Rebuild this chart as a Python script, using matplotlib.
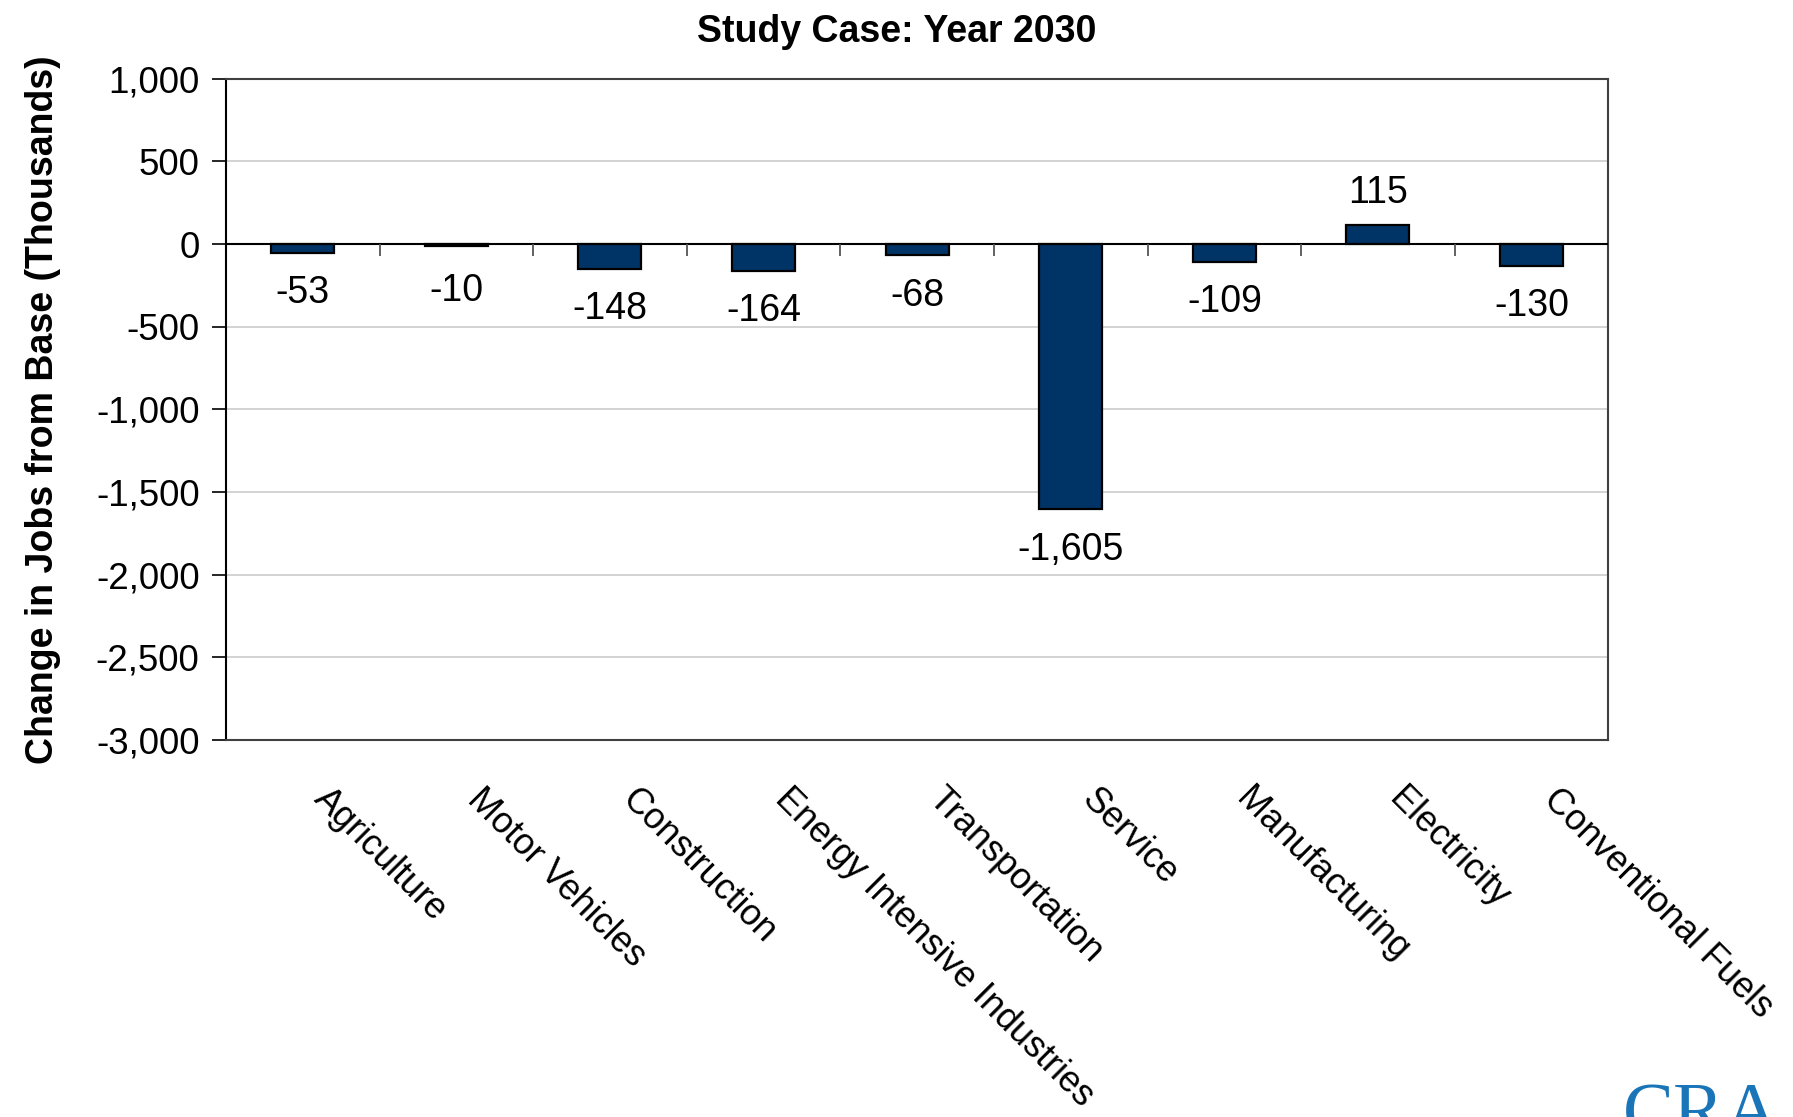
import matplotlib
matplotlib.use("Agg")
import matplotlib.pyplot as plt
import matplotlib.transforms as mtransforms
import numpy as np
from matplotlib.ticker import FuncFormatter

plt.rcParams['font.family'] = ['Liberation Sans', 'DejaVu Sans']

# data (thousands of jobs)
sectors = ['Agriculture', 'Motor Vehicles', 'Construction',
           'Energy Intensive Industries', 'Transportation', 'Service',
           'Manufacturing', 'Electricity', 'Conventional Fuels']
change = [-53, -10, -148, -164, -68, -1605, -109, 115, -130]
yticks = [1000, 500, 0, -500, -1000, -1500, -2000, -2500, -3000]

bar_color = '#003366'

fig = plt.figure(figsize=(17.93, 11.17), dpi=100)
ax = fig.add_axes([0.126, 0.3375, 0.771, 0.592])

x = np.arange(len(sectors))
bars = ax.bar(x, change, width=0.41, color=bar_color, edgecolor='black',
              linewidth=1.6, zorder=3)

ax.set_xlim(-0.5, len(sectors) - 0.5)
ax.set_ylim(min(yticks), max(yticks))
ax.set_yticks(yticks)
ax.yaxis.set_major_formatter(FuncFormatter(lambda v, p: f"{v:,.0f}"))
ax.tick_params(axis='y', labelsize=26.5, length=10, width=1.2, direction='out', pad=9)
ax.grid(axis='y', color='#c8c8c8', linewidth=1.1, zorder=0)
ax.axhline(0, color='black', linewidth=1.5, zorder=4)

# category-boundary ticks on the zero line, like the excel category axis
bounds = x[:-1] + 0.5
ax.vlines(bounds, 0, -75, color='#555555', linewidth=1.3, zorder=4)

ax.set_xticks(x)
ax.set_xticklabels(sectors, rotation=-45, ha='left', va='top',
                   rotation_mode='anchor', fontsize=26)
ax.tick_params(axis='x', length=0, pad=30)
shift = mtransforms.ScaledTranslation(21 / 72, 0, fig.dpi_scale_trans)
for lab in ax.get_xticklabels():
    lab.set_transform(lab.get_transform() + shift)

for sp in ['top', 'right', 'bottom']:
    ax.spines[sp].set_color('#404040')
    ax.spines[sp].set_linewidth(1.5)
ax.spines['left'].set_color('black')
ax.spines['left'].set_linewidth(1.5)

# value labels
for xi, v in zip(x, change):
    if v < 0:
        ax.annotate(f"{v:,.0f}", (xi, min(v, -40)), xytext=(0, -16),
                    textcoords='offset points', ha='center', va='top', fontsize=27)
    else:
        ax.annotate(f"{v:,.0f}", (xi, v), xytext=(0, 10), textcoords='offset points',
                    ha='center', va='bottom', fontsize=27)

ax.set_ylabel('Change in Jobs from Base (Thousands)', fontsize=27,
              fontweight='bold', labelpad=25)
fig.text(0.5, 0.971, 'Study Case: Year 2030', ha='center', va='center',
         fontsize=27, fontweight='bold')

# logo fragment in the corner
fig.text(0.905, 1 - 1082 / 1117, 'CRA', ha='left', va='top', color='#1a75b8',
         fontsize=55, family=['Liberation Serif', 'DejaVu Serif'])

plt.savefig('out.png', dpi=100)
plt.close()
